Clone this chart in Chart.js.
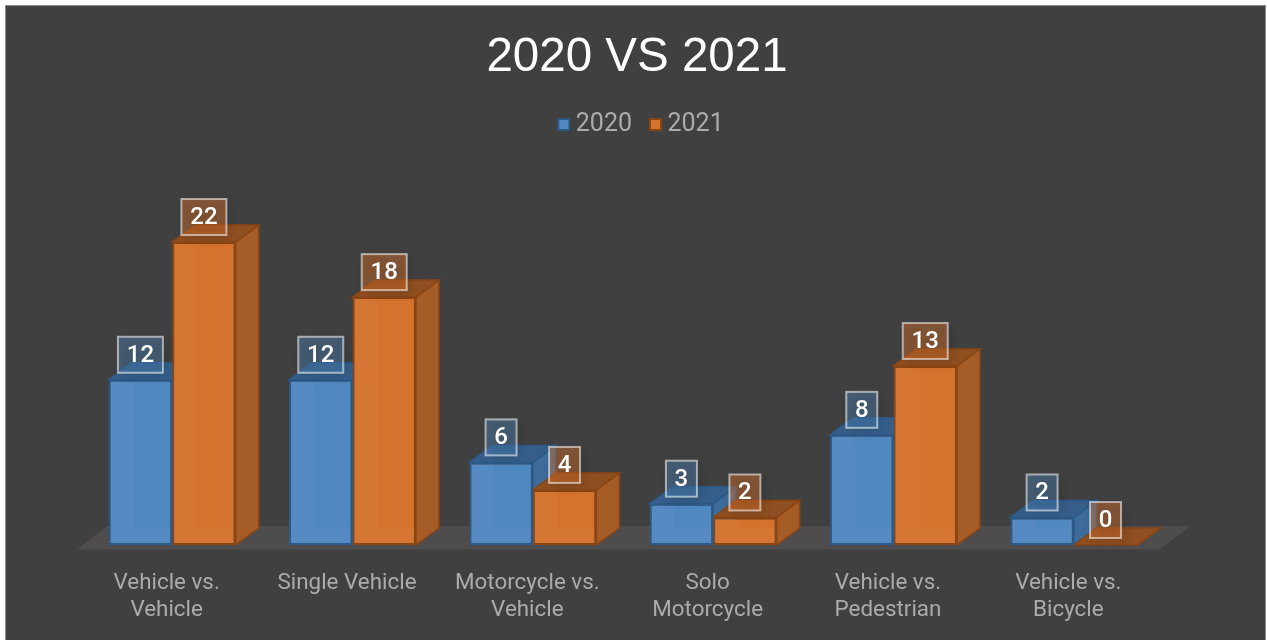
<!DOCTYPE html>
<html lang="en">
<head>
    <meta charset="UTF-8">
    <title>2020 VS 2021</title>
    <script src="https://cdn.jsdelivr.net/npm/chart.js"></script>
    <style>
        html, body { margin: 0; background: #fff; }
        #frame { position: absolute; left: 5px; top: 5px; width: 1259px; height: 635px; background: #404040; border: 1px solid #8c8c8c; border-bottom: 0; }
        canvas { position: absolute; left: 0; top: 0; }
    </style>
</head>
<body>
    <div id="frame"></div>
    <canvas id="crashChart" width="1267" height="640"></canvas>

    <script>
        const categories = [
            ['Vehicle vs.', 'Vehicle'],
            'Single Vehicle',
            ['Motorcycle vs.', 'Vehicle'],
            ['Solo', 'Motorcycle'],
            ['Vehicle vs.', 'Pedestrian'],
            ['Vehicle vs.', 'Bicycle']
        ];
        const values2020 = [12, 12, 6, 3, 8, 2];
        const values2021 = [22, 18, 4, 2, 13, 0];

        const FONT = 'Roboto, "Liberation Sans", sans-serif';
        const TITLE_FONT = '"Liberation Sans", sans-serif';
        const DEPTH_X = 23;
        const DEPTH_Y = -17;

        const blue = { front: '#5088c0', side: '#3d6c9b', top: '#355f8a', edge: '#2c5a88', box: 'rgba(80,136,192,0.4)' };
        const orange = { front: '#d4722e', side: '#a55c26', top: '#8f4f20', edge: '#8a4514', box: 'rgba(212,114,46,0.45)' };

        // legend swatch, blank strip on the left pulls it closer to the text
        function swatch(c) {
            const s = document.createElement('canvas');
            s.width = 15;
            s.height = 13;
            const g = s.getContext('2d');
            g.fillStyle = c.edge;
            g.fillRect(2, 0, 13, 13);
            g.fillStyle = c.front;
            g.fillRect(4, 2, 9, 9);
            return s;
        }

        function poly(ctx, pts, fill, stroke) {
            ctx.beginPath();
            pts.forEach((p, i) => i ? ctx.lineTo(p[0], p[1]) : ctx.moveTo(p[0], p[1]));
            ctx.closePath();
            ctx.fillStyle = fill;
            ctx.fill();
            if (stroke) {
                ctx.strokeStyle = stroke;
                ctx.lineWidth = 1.5;
                ctx.stroke();
            }
        }

        const bars3d = {
            id: 'bars3d',
            afterLayout(chart) {
                // title and legend are not centred on the plot in the original
                chart.titleBlock.left += 14;
                chart.titleBlock.right += 14;
                chart.legend.left += 20;
                chart.legend.right += 20;
            },
            beforeDatasetsDraw(chart) {
                const ctx = chart.ctx;
                const base = chart.scales.y.getPixelForValue(0);
                const a = chart.chartArea;
                // floor
                poly(ctx, [[a.left - 5, base + 4.5], [a.left + 25, base - 19], [a.right + 26, base - 19], [a.right - 4, base + 4.5]], '#4e4c4c');
                chart.data.datasets.forEach((ds, d) => {
                    const c = d === 0 ? blue : orange;
                    chart.getDatasetMeta(d).data.forEach(bar => {
                        const l = bar.x - bar.width / 2;
                        const r = bar.x + bar.width / 2;
                        const t = bar.y;
                        poly(ctx, [[r, t], [r + DEPTH_X, t + DEPTH_Y], [r + DEPTH_X, base + DEPTH_Y], [r, base]], c.side, c.edge);
                        poly(ctx, [[l, t], [l + DEPTH_X, t + DEPTH_Y], [r + DEPTH_X, t + DEPTH_Y], [r, t]], c.top, c.edge);
                    });
                });
            },
            afterDatasetsDraw(chart) {
                const ctx = chart.ctx;
                const base = chart.scales.y.getPixelForValue(0);
                ctx.save();
                // the faces are see-through in the original: back edges show as a lighter band
                chart.data.datasets.forEach((ds, d) => {
                    chart.getDatasetMeta(d).data.forEach(bar => {
                        const l = bar.x - bar.width / 2 + 2;
                        const r = bar.x + bar.width / 2 - 2;
                        const h = base - bar.y;
                        if (h < 6) return;
                        const dy = Math.min(-DEPTH_Y, h - 2);
                        const dx = dy / -DEPTH_Y * DEPTH_X;
                        poly(ctx, [[l, bar.y + 2], [l + DEPTH_X, bar.y + 2], [l + dx, base - dy], [r, base - dy], [r, base - 2], [l, base - 2]], 'rgba(255,255,255,0.03)');
                    });
                });
                ctx.textAlign = 'center';
                ctx.textBaseline = 'middle';
                chart.data.datasets.forEach((ds, d) => {
                    const c = d === 0 ? blue : orange;
                    chart.getDatasetMeta(d).data.forEach((bar, i) => {
                        const text = String(ds.data[i]);
                        const w = text.length > 1 ? 45 : 31;
                        const x = bar.x - w / 2;
                        const y = bar.y - 43;
                        ctx.shadowColor = 'rgba(0,0,0,0.35)';
                        ctx.shadowBlur = 10;
                        ctx.shadowOffsetX = 3;
                        ctx.shadowOffsetY = 3;
                        ctx.fillStyle = c.box;
                        ctx.fillRect(x, y, w, 36);
                        ctx.shadowColor = 'transparent';
                        ctx.strokeStyle = 'rgba(255,255,255,0.55)';
                        ctx.lineWidth = 2;
                        ctx.strokeRect(x, y, w, 36);
                        ctx.fillStyle = '#fff';
                        ctx.font = '500 24px ' + FONT;
                        ctx.fillText(text, bar.x, y + 19);
                    });
                });
                ctx.restore();
            }
        };

        new Chart(document.getElementById('crashChart'), {
            type: 'bar',
            data: {
                labels: categories,
                datasets: [
                    { label: '2020', data: values2020, backgroundColor: blue.front, borderColor: blue.edge, borderWidth: 2, borderSkipped: false, pointStyle: swatch(blue) },
                    { label: '2021', data: values2021, backgroundColor: orange.front, borderColor: orange.edge, borderWidth: 2, borderSkipped: false, pointStyle: swatch(orange) }
                ]
            },
            options: {
                responsive: false,
                animation: false,
                events: [],
                layout: { padding: { left: 82, right: 103, top: 29, bottom: -1 } },
                datasets: { bar: { barPercentage: 1, categoryPercentage: 0.704 } },
                plugins: {
                    title: {
                        display: true,
                        text: '2020 VS 2021',
                        color: '#ffffff',
                        font: { family: TITLE_FONT, size: 47.5, weight: 'normal' },
                        padding: { top: 0, bottom: 4 }
                    },
                    legend: {
                        display: true,
                        position: 'top',
                        labels: {
                            usePointStyle: true,
                            pointStyleWidth: 1,
                            padding: 22,
                            color: '#ababab',
                            font: { family: FONT, size: 25 }
                        }
                    },
                    tooltip: { enabled: false }
                },
                scales: {
                    x: {
                        grid: { display: false },
                        border: { display: false },
                        ticks: {
                            color: '#ababab',
                            labelOffset: -5.5,
                            padding: 17,
                            maxRotation: 0,
                            font: { family: FONT, size: 22.4, lineHeight: 1.205 }
                        }
                    },
                    y: {
                        display: false,
                        min: 0,
                        max: 28.9
                    }
                }
            },
            plugins: [bars3d]
        });
    </script>
</body>
</html>
